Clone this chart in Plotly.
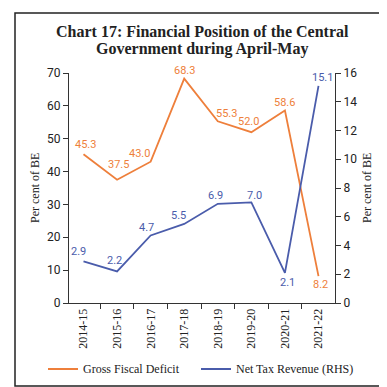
import plotly.graph_objects as go

years = ["2014-15", "2015-16", "2016-17", "2017-18", "2018-19", "2019-20", "2020-21", "2021-22"]
gfd = [45.3, 37.5, 43.0, 68.3, 55.3, 52.0, 58.6, 8.2]
ntr = [2.9, 2.2, 4.7, 5.5, 6.9, 7.0, 2.1, 15.1]
# label offsets in pixels (x, y) relative to the point
gfd_off = [(2, 10), (1, 15), (-11, 8), (0, 8), (9, 8), (-3, 11), (0, 8), (2, -8)]
ntr_off = [(-5, 10), (-3, 11), (-4, 8), (-6, 8), (-2, 8), (3, 7), (3, -10), (4, 8)]

ORANGE = "#EE7F3B"
BLUE = "#4A5CAB"
FONT = "Liberation Serif"
NUMFONT = "Roboto"
INK = "#222222"

L, R, T, B = 61, 60, 65, 92
W = H = 387
PW = W - L - R
PH = H - T - B


def px(x):
    return (x - L) / PW


def py(y):
    return (H - B - y) / PH


fig = go.Figure()
fig.add_trace(go.Scatter(x=years, y=gfd, mode="lines", name="Gross Fiscal Deficit",
                         line=dict(color=ORANGE, width=1.8), cliponaxis=False))
fig.add_trace(go.Scatter(x=years, y=ntr, mode="lines", name="Net Tax Revenue (RHS)",
                         line=dict(color=BLUE, width=1.8), yaxis="y2", cliponaxis=False))

ann = []
for c, v, (dx, dy) in zip(years, gfd, gfd_off):
    ann.append(dict(x=c, y=v, xref="x", yref="y", text=f"{v:.1f}", showarrow=False,
                    xshift=dx, yshift=dy, font=dict(family=NUMFONT, size=11, color=ORANGE)))
for c, v, (dx, dy) in zip(years, ntr, ntr_off):
    ann.append(dict(x=c, y=v, xref="x", yref="y2", text=f"{v:.1f}", showarrow=False,
                    xshift=dx, yshift=dy, font=dict(family=NUMFONT, size=11, color=BLUE)))

# title lines
ann.append(dict(x=0.5, y=py(24), xref="paper", yref="paper", showarrow=False,
                text="<b>Chart 17: Financial Position of the Central</b>", xanchor="center", yanchor="middle",
                font=dict(family=FONT, size=16, color=INK)))
ann.append(dict(x=0.5, y=py(41), xref="paper", yref="paper", showarrow=False,
                text="<b>Government during April-May</b>", xanchor="center", yanchor="middle",
                font=dict(family=FONT, size=16, color=INK)))
# axis titles
ann.append(dict(x=px(27), y=py(180), xref="paper", yref="paper", showarrow=False, textangle=-90,
                text="Per cent of BE", xanchor="center", yanchor="middle",
                font=dict(family=FONT, size=12, color=INK)))
ann.append(dict(x=px(359), y=py(180), xref="paper", yref="paper", showarrow=False, textangle=-90,
                text="Per cent of BE", xanchor="center", yanchor="middle",
                font=dict(family=FONT, size=12, color=INK)))
# legend texts
ann.append(dict(x=px(73), y=py(361), xref="paper", yref="paper", showarrow=False,
                text="Gross Fiscal Deficit", xanchor="left", yanchor="middle",
                font=dict(family=FONT, size=12, color=INK)))
ann.append(dict(x=px(226), y=py(361), xref="paper", yref="paper", showarrow=False,
                text="Net Tax Revenue (RHS)", xanchor="left", yanchor="middle",
                font=dict(family=FONT, size=12, color=INK)))

shapes = [
    dict(type="rect", xref="paper", yref="paper", x0=px(7), x1=px(380), y0=py(378), y1=py(5),
         line=dict(color=INK, width=1.5), fillcolor="rgba(0,0,0,0)", layer="above"),
    dict(type="line", xref="paper", yref="paper", x0=px(40), x1=px(70), y0=py(361), y1=py(361),
         line=dict(color=ORANGE, width=2)),
    dict(type="line", xref="paper", yref="paper", x0=px(193), x1=px(223), y0=py(361), y1=py(361),
         line=dict(color=BLUE, width=2)),
]

fig.update_layout(
    width=W, height=H,
    margin=dict(l=L, r=R, t=T, b=B),
    paper_bgcolor="white", plot_bgcolor="white",
    font=dict(family=FONT, color=INK, size=12),
    showlegend=False,
    annotations=ann, shapes=shapes,
    xaxis=dict(type="category", showline=True, linecolor="#333333", linewidth=1,
               ticks="outside", ticklen=5, tickcolor="#333333", tickson="boundaries",
               tickangle=-90, tickfont=dict(family=FONT, size=12, color=INK), showgrid=False),
    yaxis=dict(range=[0, 70], dtick=10, showline=True, linecolor="#333333", linewidth=1,
               ticks="outside", ticklen=5, tickcolor="#333333", showgrid=False, zeroline=False,
               tickfont=dict(family=NUMFONT, size=12, color=INK)),
    yaxis2=dict(range=[0, 16], dtick=2, overlaying="y", side="right", showline=True,
                linecolor="#333333", linewidth=1, ticks="outside", ticklen=5, tickcolor="#333333",
                showgrid=False, zeroline=False,
                tickfont=dict(family=NUMFONT, size=12, color=INK)),
)

fig.write_html("out.html")
